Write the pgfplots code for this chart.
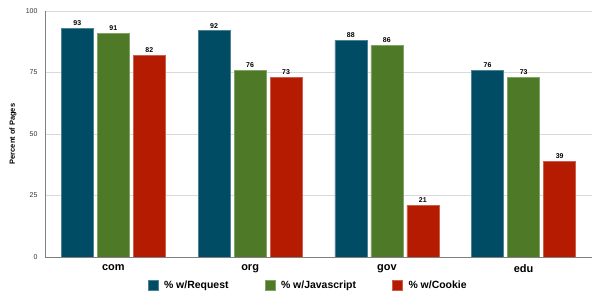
\documentclass[border=0pt]{standalone}
\usepackage{fontspec}
\setmainfont{Liberation Sans}
\usepackage{pgfplots}
\pgfplotsset{compat=1.18}
\definecolor{cblue}{RGB}{0,76,101}
\definecolor{cgreen}{RGB}{78,122,40}
\definecolor{cred}{RGB}{180,27,0}
\definecolor{gridc}{RGB}{217,217,217}
\definecolor{axc}{RGB}{128,128,128}
\begin{document}
\begin{tikzpicture}
\useasboundingbox (0,0) rectangle (608bp,303bp);
\begin{axis}[
  at={(45bp,46bp)}, anchor=south west,
  scale only axis, width=547bp, height=246bp,
  ybar=4bp, bar width=32bp,
  xmin=-0.5, xmax=3.5, ymin=0, ymax=100,
  xtick={0,1,2,3}, xticklabels={com,org,gov,edu},
  ytick={0,25,50,75,100},
  major tick length=0pt,
  axis x line*=bottom, axis y line*=left,
  axis line style={axc, line width=0.8bp, -},
  ymajorgrids, grid style={gridc, line width=0.8bp},
  /pgf/number format/assume math mode=true,
  yticklabel style={font=\fontsize{7}{8}\selectfont, text=black!80, xshift=-4bp},
  xticklabel style={font=\fontsize{11}{13}\selectfont\bfseries, yshift=-4bp},
  ylabel={Percent of Pages},
  ylabel style={font=\fontsize{7.5}{9}\selectfont\bfseries, at={(axis description cs:0,0.5)}, yshift=25bp},
  nodes near coords,
  every node near coord/.append style={font=\fontsize{7}{8}\selectfont\bfseries, yshift=-1bp},
  legend columns=3,
  legend style={draw=none, at={(0.481,-0.114)}, anchor=center,
    font=\fontsize{10.5}{12}\selectfont\bfseries,
    /tikz/every odd column/.append style={column sep=4bp},
    /tikz/every even column/.append style={column sep=34bp}},
  legend image code/.code={\fill[#1] (0bp,-5bp) rectangle (10bp,5bp);},
]
\addplot[fill=cblue, draw=cblue!70!white, line width=0.5bp] coordinates {(0,93) (1,92) (2,88) (3,76)};
\addplot[fill=cgreen, draw=cgreen!70!white, line width=0.5bp] coordinates {(0,91) (1,76) (2,86) (3,73)};
\addplot[fill=cred, draw=cred!70!white, line width=0.5bp] coordinates {(0,82) (1,73) (2,21) (3,39)};
\legend{\% w/Request, \% w/Javascript, \% w/Cookie}
\end{axis}
\end{tikzpicture}
\end{document}
